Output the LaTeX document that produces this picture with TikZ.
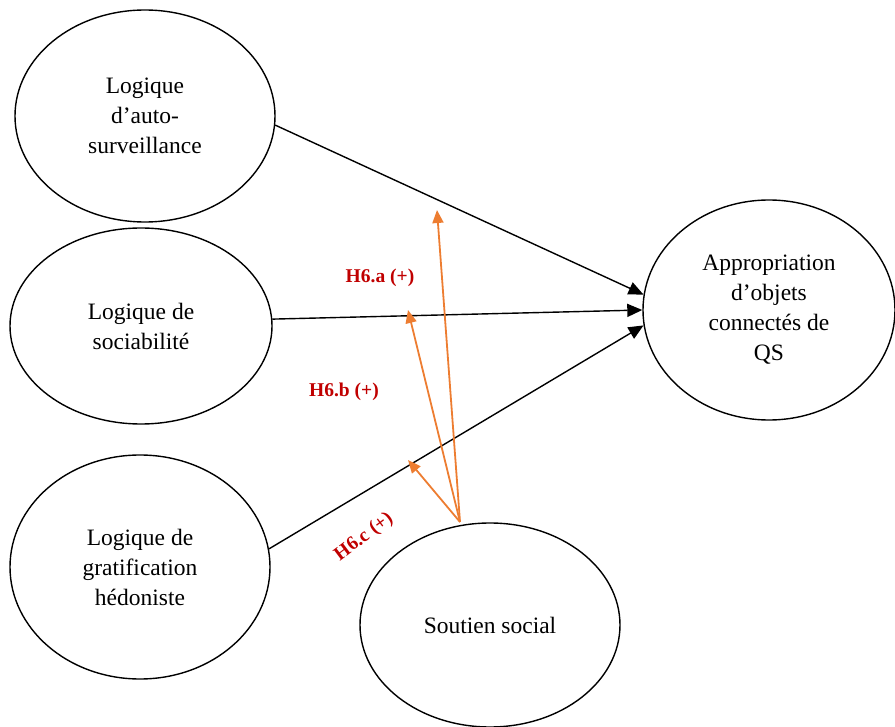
\documentclass[tikz,border=0pt]{standalone}
\usepackage{fontspec}
\setmainfont{Liberation Serif}
\usetikzlibrary{shapes.geometric,arrows.meta}
\definecolor{orng}{RGB}{237,125,49}
\definecolor{dred}{RGB}{192,0,0}
\begin{document}
\begin{tikzpicture}[x=1pt,y=-1pt,
  ell/.style={ellipse,draw,line width=1.4pt,inner sep=0pt,align=center,
    font=\fontsize{23.5}{30}\selectfont},
  blk/.style={line width=1.4pt,-{Triangle[length=15pt,width=13pt]}},
  org/.style={orng,line width=1.8pt,-{Triangle[length=13pt,width=11pt]}},
  hyp/.style={dred,font=\bfseries\fontsize{19.5}{21}\selectfont}]
\useasboundingbox (0,0) rectangle (895,727);
\node[ell,minimum width=260pt,minimum height=212pt] (e1) at (145,116) {Logique\\d’auto-\\surveillance};
\node[ell,minimum width=262pt,minimum height=196pt] (e2) at (141,326) {Logique de\\sociabilité};
\node[ell,minimum width=260pt,minimum height=224pt] (e3) at (140,567) {Logique de\\gratification\\hédoniste};
\node[ell,minimum width=252pt,minimum height=220pt] (e4) at (769,310) {Appropriation\\d’objets\\connectés de\\QS};
\node[ell,minimum width=260pt,minimum height=204pt] (e5) at (490,625) {Soutien social};
\draw[blk] (e1.-4) -- (e4.173);
\draw[blk] (e2.3) -- (e4.180);
\draw[blk] (e3.8) -- (e4.187);
\coordinate (s) at (460,522);
\coordinate (ta) at (437,210);
\coordinate (tb) at (408,310);
\coordinate (tc) at (408,460);
\draw[org] (s) -- (ta);
\draw[org] (s) -- (tb);
\draw[org] (s) -- (tc);
\node[hyp] (ha) at (380,278) {H6.a (+)};
\node[hyp] (hb) at (344,392) {H6.b (+)};
\node[hyp,rotate=37] (hc) at (364,537) {H6.c (+)};
\end{tikzpicture}
\end{document}
